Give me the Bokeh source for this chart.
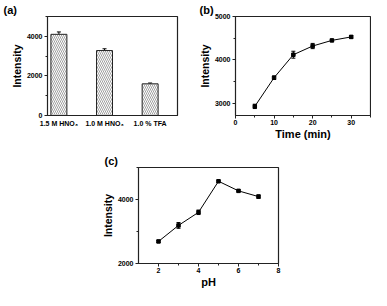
from bokeh.plotting import figure
from bokeh.models import ColumnDataSource, Whisker, TeeHead, FixedTicker, Title, Range1d
from bokeh.layouts import column, row
from bokeh.embed import file_html
from bokeh.resources import INLINE

# ---- data ----
a_cats = ["1.5 M HNO\u2083", "1.0 M HNO\u2083", "1.0 % TFA"]
a_vals = [4100, 3280, 1600]
a_err = [120, 90, 40]

b_time = [5, 10, 15, 20, 25, 30]
b_vals = [2930, 3590, 4120, 4320, 4450, 4530]
b_err = [50, 40, 80, 60, 20, 30]

c_ph = [2, 3, 4, 5, 6, 7]
c_vals = [2690, 3190, 3600, 4570, 4270, 4090]
c_err = [30, 90, 70, 30, 30, 50]

FONT = "Liberation Sans"


def style(p, xticks, yticks, xminor, yminor, xlabel=None, ylabel="Intensity"):
    p.outline_line_color = "#222222"
    p.outline_line_width = 1.2
    p.grid.visible = False
    p.background_fill_color = "white"
    p.border_fill_color = "white"
    for ax, t, mn in ((p.xaxis[0], xticks, xminor), (p.yaxis[0], yticks, yminor)):
        ax.ticker = FixedTicker(ticks=t, minor_ticks=mn)
        ax.major_tick_in = 0
        ax.major_tick_out = 3
        ax.minor_tick_in = 0
        ax.minor_tick_out = 2
        ax.axis_line_color = "#222222"
        ax.major_tick_line_color = "#222222"
        ax.minor_tick_line_color = "#222222"
        ax.major_label_text_font = FONT
        ax.major_label_text_font_style = "bold"
        ax.major_label_text_font_size = "7px"
        ax.major_label_text_color = "black"
        ax.axis_label_text_font = FONT
        ax.axis_label_text_font_style = "bold"
        ax.axis_label_text_color = "black"
    p.xaxis[0].major_label_standoff = 1
    p.xaxis[0].axis_label_standoff = 0
    p.yaxis[0].major_label_standoff = 2
    p.yaxis[0].axis_label_standoff = 1
    p.yaxis[0].axis_label = ylabel
    p.yaxis[0].axis_label_text_font_size = "10.5px"
    if xlabel:
        p.xaxis[0].axis_label = xlabel
        p.xaxis[0].axis_label_text_font_size = "11px"


def tag(text, offset, standoff):
    return Title(text=text, align="left", offset=offset, standoff=standoff,
                 text_font=FONT, text_font_style="bold", text_font_size="11px",
                 text_color="black", vertical_align="bottom")


# ---- panel (a) ----
pa = figure(width=195, height=142, output_backend="svg", toolbar_location=None,
            x_range=Range1d(0.75, 3.6), y_range=Range1d(0, 5000),
            title=tag("(a)", -44, 2),
            min_border_left=47, min_border_right=18, min_border_top=15, min_border_bottom=25)
xa = list(range(1, len(a_cats) + 1))
srca = ColumnDataSource(dict(x=xa, top=a_vals,
                             upper=[v + e for v, e in zip(a_vals, a_err)],
                             lower=[v - e for v, e in zip(a_vals, a_err)]))
pa.vbar(x="x", top="top", width=0.35, source=srca, fill_color="white", line_color="#222222",
        line_width=1, hatch_pattern="\\", hatch_color="#888888", hatch_scale=4, hatch_weight=0.8)
pa.add_layout(Whisker(source=srca, base="x", upper="upper", lower="lower", line_color="black",
                      upper_head=TeeHead(size=4, line_color="black"),
                      lower_head=TeeHead(size=4, line_color="black")))
style(pa, xa, [0, 2000, 4000], [], [1000, 3000, 5000])
pa.xaxis[0].major_label_overrides = {i: c for i, c in zip(xa, a_cats)}
pa.xaxis[0].major_tick_line_color = None
pa.xaxis[0].minor_tick_line_color = None

# ---- panel (b) ----
pb = figure(width=176, height=142, output_backend="svg", toolbar_location=None,
            x_range=Range1d(0, 35), y_range=Range1d(2720, 5000),
            title=tag("(b)", -36, 1),
            min_border_left=35, min_border_right=1, min_border_top=15, min_border_bottom=25)
srcb = ColumnDataSource(dict(x=b_time, y=b_vals,
                             upper=[v + e for v, e in zip(b_vals, b_err)],
                             lower=[v - e for v, e in zip(b_vals, b_err)]))
pb.line("x", "y", source=srcb, line_color="black", line_width=1)
pb.scatter("x", "y", source=srcb, marker="square", size=3.5, fill_color="black", line_color="black")
pb.add_layout(Whisker(source=srcb, base="x", upper="upper", lower="lower", line_color="black",
                      upper_head=TeeHead(size=4, line_color="black"),
                      lower_head=TeeHead(size=4, line_color="black")))
style(pb, [0, 10, 20, 30], [3000, 4000, 5000], [5, 15, 25, 35], [3500, 4500], xlabel="Time (min)")

# ---- panel (c) ----
pc = figure(width=371, height=148, output_backend="svg", toolbar_location=None,
            x_range=Range1d(1, 8), y_range=Range1d(2000, 5000),
            title=tag("(c)", -34, 1),
            min_border_left=138, min_border_right=93, min_border_top=25, min_border_bottom=25)
srcc = ColumnDataSource(dict(x=c_ph, y=c_vals,
                             upper=[v + e for v, e in zip(c_vals, c_err)],
                             lower=[v - e for v, e in zip(c_vals, c_err)]))
pc.line("x", "y", source=srcc, line_color="black", line_width=1)
pc.scatter("x", "y", source=srcc, marker="square", size=3.5, fill_color="black", line_color="black")
pc.add_layout(Whisker(source=srcc, base="x", upper="upper", lower="lower", line_color="black",
                      upper_head=TeeHead(size=4, line_color="black"),
                      lower_head=TeeHead(size=4, line_color="black")))
style(pc, [2, 4, 6, 8], [2000, 4000], [3, 5, 7], [3000, 5000], xlabel="pH")

layout = column(row(pa, pb, spacing=0), pc, spacing=0)
open("out.html", "w").write(file_html(layout, INLINE))
